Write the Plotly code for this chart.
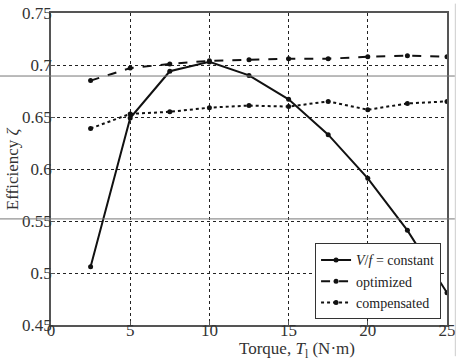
import plotly.graph_objects as go

torque = [2.5, 5, 7.5, 10, 12.5, 15, 17.5, 20, 22.5, 25]
vf_const = [0.506, 0.649, 0.694, 0.703, 0.690, 0.667, 0.633, 0.591, 0.541, 0.481]
optimized = [0.685, 0.697, 0.701, 0.704, 0.705, 0.706, 0.706, 0.708, 0.709, 0.708]
compensated = [0.639, 0.653, 0.655, 0.659, 0.661, 0.660, 0.665, 0.657, 0.663, 0.665]

x_ticks = [0, 5, 10, 15, 20, 25]
y_ticks = [0.45, 0.5, 0.55, 0.6, 0.65, 0.7, 0.75]

FONT = "Liberation Serif"

fig = go.Figure()
series = [
    ("<i>V</i>/<i>f</i> = constant", vf_const, "solid"),
    ("optimized", optimized, "dash"),
    ("compensated", compensated, "dot"),
]
for name, ys, dash in series:
    fig.add_trace(go.Scatter(
        x=torque, y=ys, name=name, mode="lines+markers",
        line=dict(color="#111111", width=2, dash=dash),
        marker=dict(color="#111111", size=5, symbol="circle"),
    ))

axis_common = dict(
    showline=True, linecolor="#555555", linewidth=1.5, mirror=True,
    showgrid=True, gridcolor="#222222", griddash="3px,3px", gridwidth=1,
    ticks="inside", ticklen=4, tickcolor="#555555",
    tickfont=dict(family=FONT, size=17, color="#333333"),
    zeroline=False, automargin=False,
)

fig.update_xaxes(range=[0, 25], tickvals=x_ticks, ticktext=[str(v) for v in x_ticks],
                 ticklabelstandoff=-11, **axis_common)
fig.update_yaxes(range=[0.45, 0.75], tickvals=y_ticks,
                 ticktext=["0.45", "0.5", "0.55", "0.6", "0.65", "0.7", "0.75"],
                 ticklabelstandoff=-6, **axis_common)

# axis titles
fig.add_annotation(text="Torque, <i>T</i><sub>l</sub> (N·m)", xref="paper", yref="paper",
                   x=0.62, y=-0.08, xanchor="center", yanchor="middle", showarrow=False,
                   font=dict(family=FONT, size=17, color="#333333"))
fig.add_annotation(text="Efficiency <i>ζ</i>", xref="paper", yref="paper",
                   x=-0.098, y=0.50, xanchor="center", yanchor="middle", showarrow=False,
                   textangle=-90, font=dict(family=FONT, size=17, color="#333333"))

# scan artifacts in the reference image
for y0 in [0.798, 0.340]:
    fig.add_shape(type="line", xref="paper", yref="paper", x0=-0.13, x1=1.02,
                  y0=y0, y1=y0, line=dict(color="#777777", width=1), layer="above")
fig.add_shape(type="line", xref="paper", yref="paper", x0=1.021, x1=1.021,
              y0=-0.1, y1=1.03, line=dict(color="#cccccc", width=1), layer="above")

fig.update_layout(
    width=458, height=360,
    margin=dict(l=51, r=11, t=13, b=35),
    paper_bgcolor="white", plot_bgcolor="white",
    legend=dict(x=0.985, y=0.018, xanchor="right", yanchor="bottom",
                bgcolor="white", bordercolor="#333333", borderwidth=1,
                font=dict(family=FONT, size=14, color="#222222"),
                tracegroupgap=0, itemwidth=30),
    showlegend=True,
)

fig.write_html("out.html")
